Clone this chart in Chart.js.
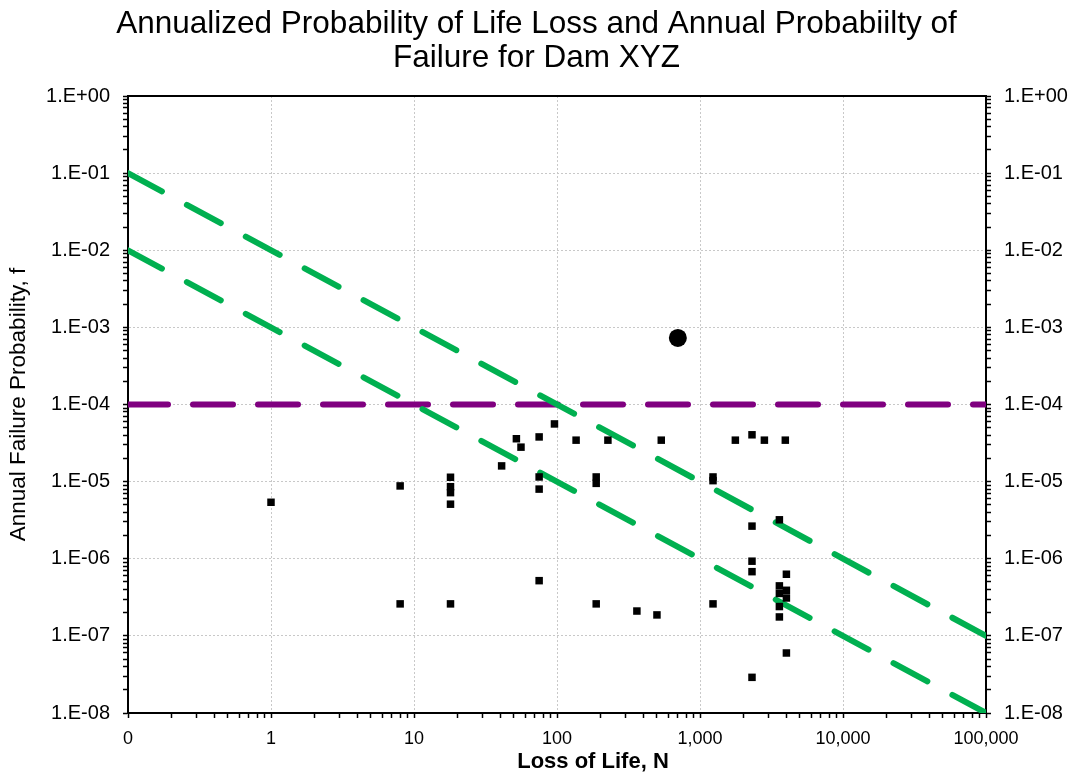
<!DOCTYPE html>
<html>
<head>
<meta charset="utf-8">
<title>Dam XYZ - Life Loss vs Failure Probability</title>
<script src="https://cdn.jsdelivr.net/npm/chart.js@4.4.1/dist/chart.umd.min.js"></script>
<style>
html,body{margin:0;padding:0;background:#fff;}
#wrap{width:1073px;height:776px;}
</style>
</head>
<body>
<div id="wrap"><canvas id="riskChart" width="1073" height="776"></canvas></div>
<script>
// =============================
// F-N CHART, DAM XYZ
// =============================

const chartTitle = ["Annualized Probability of Life Loss and Annual Probabiilty of", "Failure for Dam XYZ"];
const xTitle = "Loss of Life, N";
const yTitle = "Annual Failure Probability, f";

// individual failure modes: loss of life and annual probability
const modeLoss = [1, 8, 8, 18, 18, 18, 18, 18, 41, 52, 56, 75, 75, 75, 75, 96, 136, 188, 188, 188, 227, 362, 500, 536,
  1233, 1233, 1233, 1767, 2310, 2310, 2310, 2310, 2310, 2820, 3590, 3590, 3590, 3590, 3590, 3950, 4020, 4020, 4020, 4020];
const modeProb = [5.4e-6, 8.8e-6, 2.6e-7, 1.14e-5, 8.6e-6, 7.2e-6, 5.1e-6, 2.6e-7, 1.6e-5, 3.6e-5, 2.8e-5, 3.8e-5, 1.15e-5, 8e-6, 5.2e-7, 5.6e-5, 3.45e-5, 1.15e-5, 9.5e-6, 2.6e-7, 3.45e-5, 2.1e-7, 1.87e-7, 3.45e-5,
  1.15e-5, 1.03e-5, 2.6e-7, 3.45e-5, 4.05e-5, 2.65e-6, 9.3e-7, 6.8e-7, 2.9e-8, 3.45e-5, 3.2e-6, 4.45e-7, 3.55e-7, 2.4e-7, 1.76e-7, 3.45e-5, 6.3e-7, 3.9e-7, 3.1e-7, 6e-8];

// whole dam
const damLoss = [700];
const damProb = [7.3e-4];

// guideline lines
const guideLoss = [0.1, 100000];
const upperGuide = [0.1, 1e-7];
const lowerGuide = [0.01, 1e-8];
const failureGuide = [1e-4, 1e-4];

const xMin = 0.1, xMax = 100000;
const yMin = 1e-8, yMax = 1;

const FONT = '"Liberation Sans", Arial, Helvetica, sans-serif';
Chart.defaults.font.family = FONT;
Chart.defaults.color = "#000";

function toPoints(xs, ys){
  return xs.map((x, i) => ({x: x, y: ys[i]}));
}

function isDecade(v){
  const l = Math.log10(v);
  return Math.abs(l - Math.round(l)) < 1e-9;
}

// 1..9 per decade so the minor tick marks show
function logTicks(min, max){
  const out = [];
  const lo = Math.round(Math.log10(min)), hi = Math.round(Math.log10(max));
  for(let e = lo; e <= hi; e++){
    for(let m = 1; m <= 9; m++){
      if(e === hi && m > 1) break;
      out.push({value: parseFloat(m + "e" + e), major: m === 1});
    }
  }
  return out;
}

function lossLabel(v){
  if(!isDecade(v)) return "";
  if(v < 1) return "0";
  return Math.round(v).toLocaleString("en-US");
}

function probLabel(v){
  if(!isDecade(v)) return "";
  const e = Math.round(Math.log10(v));
  return "1.E" + (e < 0 ? "-" : "+") + String(Math.abs(e)).padStart(2, "0");
}

const gridColor = (c) => (c.tick && isDecade(c.tick.value)) ? "#c8c8c8" : "transparent";

// bold caption under the x axis
const xCaption = {
  id: "xCaption",
  afterDraw(chart){
    const ctx = chart.ctx;
    const a = chart.chartArea;
    ctx.save();
    ctx.font = "bold 22px " + FONT;
    ctx.fillStyle = "#000";
    ctx.textAlign = "center";
    ctx.textBaseline = "alphabetic";
    ctx.fillText(xTitle, (a.left + a.right) / 2 + 36, 768);
    ctx.restore();
  }
};

const ctx = document.getElementById("riskChart").getContext("2d");

new Chart(ctx, {
  type: "scatter",
  data: {
    datasets: [
      {
        label: "Failure modes",
        data: toPoints(modeLoss, modeProb),
        pointStyle: "rect",
        pointRadius: 5.3,
        borderWidth: 0,
        backgroundColor: "#000"
      },
      {
        label: "Dam XYZ",
        data: toPoints(damLoss, damProb),
        pointStyle: "circle",
        pointRadius: 9,
        borderWidth: 0,
        backgroundColor: "#000"
      },
      {
        label: "Upper guideline",
        data: toPoints(guideLoss, upperGuide),
        showLine: true,
        pointRadius: 0,
        borderColor: "#00b050",
        borderWidth: 6,
        borderDash: [38.5, 28.4],
        borderCapStyle: "round",
        fill: false
      },
      {
        label: "Lower guideline",
        data: toPoints(guideLoss, lowerGuide),
        showLine: true,
        pointRadius: 0,
        borderColor: "#00b050",
        borderWidth: 6,
        borderDash: [38.5, 28.4],
        borderCapStyle: "round",
        fill: false
      },
      {
        label: "Failure probability limit",
        data: toPoints(guideLoss, failureGuide),
        showLine: true,
        pointRadius: 0,
        borderColor: "#800080",
        borderWidth: 6,
        borderDash: [40, 25],
        borderCapStyle: "round",
        fill: false
      }
    ]
  },
  options: {
    responsive: false,
    devicePixelRatio: 1,
    animation: false,
    events: [],
    layout: {padding: 0},
    plugins: {
      legend: {display: false},
      tooltip: {enabled: false},
      title: {
        display: true,
        text: chartTitle,
        color: "#000",
        font: {size: 31.5, weight: "normal", lineHeight: 1.08},
        padding: {top: 7.5, bottom: 20.5}
      }
    },
    scales: {
      x: {
        type: "logarithmic",
        position: "bottom",
        min: xMin,
        max: xMax,
        afterBuildTicks: (s) => { s.ticks = logTicks(xMin, xMax); },
        afterFit: (s) => { s.height = 63; },
        ticks: {
          autoSkip: false,
          maxRotation: 0,
          padding: 10,
          font: {size: 18},
          color: "#000",
          callback: (v) => lossLabel(v)
        },
        grid: {
          color: gridColor,
          lineWidth: 1,
          tickColor: "#000",
          tickLength: 5,
          tickWidth: 1.5,
          tickBorderDash: []
        },
        border: {display: true, color: "#000", width: 2, dash: [2, 2]}
      },
      x2: {
        type: "logarithmic",
        position: "top",
        min: xMin,
        max: xMax,
        afterFit: (s) => { s.height = 0; },
        ticks: {display: false},
        grid: {display: true, color: "transparent", drawTicks: false},
        border: {display: true, color: "#000", width: 2}
      },
      y: {
        type: "logarithmic",
        position: "left",
        min: yMin,
        max: yMax,
        afterBuildTicks: (s) => { s.ticks = logTicks(yMin, yMax); },
        afterFit: (s) => { s.width = 128; },
        title: {
          display: true,
          text: yTitle,
          color: "#000",
          font: {size: 22.5, weight: "normal", lineHeight: 1.2},
          padding: {top: 5, bottom: 0}
        },
        ticks: {
          autoSkip: false,
          padding: 13,
          font: {size: 20},
          color: "#000",
          callback: (v) => probLabel(v)
        },
        grid: {
          color: gridColor,
          lineWidth: 1,
          tickColor: "#000",
          tickLength: 5,
          tickWidth: 1.5,
          tickBorderDash: []
        },
        border: {display: true, color: "#000", width: 2, dash: [2, 2]}
      },
      y2: {
        type: "logarithmic",
        position: "right",
        min: yMin,
        max: yMax,
        afterBuildTicks: (s) => { s.ticks = logTicks(yMin, yMax); },
        afterFit: (s) => { s.width = 87; },
        ticks: {
          autoSkip: false,
          padding: 13,
          font: {size: 20},
          color: "#000",
          callback: (v) => probLabel(v)
        },
        grid: {
          drawOnChartArea: false,
          tickColor: "#000",
          tickLength: 5,
          tickWidth: 1.5
        },
        border: {display: true, color: "#000", width: 2}
      }
    }
  },
  plugins: [xCaption]
});
</script>
</body>
</html>
